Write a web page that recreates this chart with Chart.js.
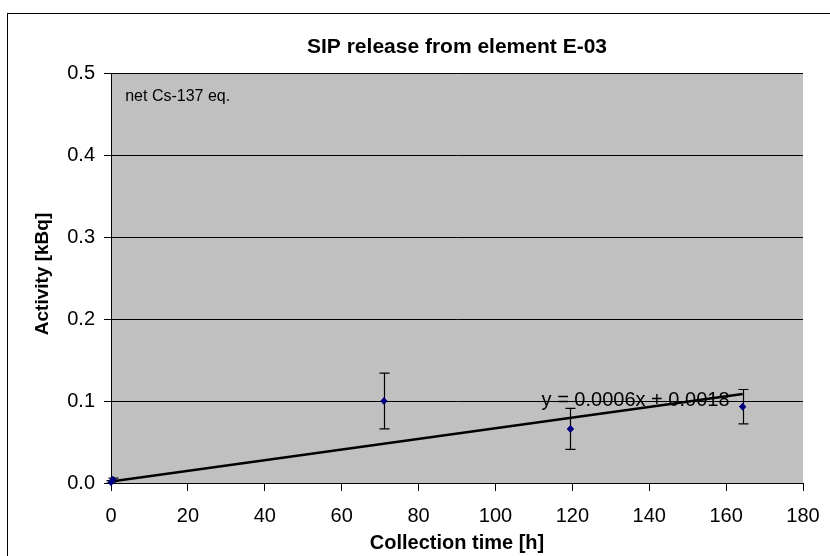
<!DOCTYPE html>
<html><head><meta charset="utf-8">
<script src="https://cdn.jsdelivr.net/npm/chart.js@4/dist/chart.umd.min.js"></script>
<style>html,body{margin:0;padding:0;background:#fff}#wrap{width:830px;height:556px}</style>
</head><body><div id="wrap"><canvas id="c" width="830" height="556"></canvas></div>
<script>
const timeH = [0, 0.5, 71, 119.5, 164.3];
const activity = [0.001, 0.004, 0.100, 0.066, 0.093];
const errPlusMinus = [0.002, 0.002, 0.034, 0.025, 0.021];
const trendX = [0, 164.3];
const trendY = [0.0018, 0.1086];
const trendLabel = 'y = 0.0006x + 0.0018';
const xTicks = [0,20,40,60,80,100,120,140,160,180];
const yTicks = [0,0.1,0.2,0.3,0.4,0.5];

const FONT = '"Liberation Sans", Arial, sans-serif';

const extras = {
  id: 'extras',
  beforeDraw(chart) {
    const ctx = chart.ctx;
    ctx.save();
    ctx.fillStyle = '#fff';
    ctx.fillRect(0,0,chart.width,chart.height);
    ctx.strokeStyle = '#000';
    ctx.lineWidth = 1;
    ctx.strokeRect(7.5, 13.5, 830, 560);
    const a = chart.chartArea;
    ctx.fillStyle = '#C0C0C0';
    ctx.fillRect(a.left, a.top, a.right-a.left, a.bottom-a.top);
    ctx.restore();
  },
  afterDatasetsDraw(chart) {
    const ctx = chart.ctx, xs = chart.scales.x, ys = chart.scales.y;
    ctx.save();
    ctx.strokeStyle = '#000'; ctx.lineWidth = 1.2;
    timeH.forEach((t,i) => {
      const px = Math.round(xs.getPixelForValue(t)) + 0.5;
      const top = ys.getPixelForValue(activity[i] + errPlusMinus[i]);
      const bot = ys.getPixelForValue(Math.max(0, activity[i] - errPlusMinus[i]));
      ctx.beginPath();
      ctx.moveTo(px, top); ctx.lineTo(px, bot);
      ctx.moveTo(px-5, top); ctx.lineTo(px+5, top);
      ctx.moveTo(px-5, bot); ctx.lineTo(px+5, bot);
      ctx.stroke();
    });
    ctx.fillStyle = '#000080';
    timeH.forEach((t,i) => {
      const px = xs.getPixelForValue(t), py = ys.getPixelForValue(activity[i]);
      ctx.beginPath();
      ctx.moveTo(px, py-4); ctx.lineTo(px+3.5, py); ctx.lineTo(px, py+4); ctx.lineTo(px-3.5, py);
      ctx.closePath(); ctx.fill();
    });
    ctx.fillStyle = '#000';
    ctx.font = '20px ' + FONT;
    ctx.textBaseline = 'middle'; ctx.textAlign = 'left';
    ctx.fillText(trendLabel, xs.getPixelForValue(112), ys.getPixelForValue(0.1) - 1);
    ctx.font = '16px ' + FONT;
    ctx.fillText('net Cs-137 eq.', xs.getPixelForValue(3.7), ys.getPixelForValue(0.471));
    ctx.font = 'bold 21px ' + FONT;
    ctx.textAlign = 'center';
    ctx.fillText('SIP release from element E-03', (xs.left + xs.right)/2, 47);
    ctx.font = 'bold 20px ' + FONT;
    ctx.fillText('Collection time [h]', (xs.left + xs.right)/2, 543);
    ctx.font = 'bold 19px ' + FONT;
    ctx.translate(43, 274);
    ctx.rotate(-Math.PI/2);
    ctx.fillText('Activity [kBq]', 0, 0);
    ctx.restore();
  }
};

new Chart(document.getElementById('c'), {
  type: 'scatter',
  data: {
    datasets: [
      { label: 'data', data: timeH.map((t,i)=>({x:t,y:activity[i]})),
        pointStyle: 'rectRot', pointRadius: 3, backgroundColor: '#000080', borderColor: '#000080', showLine: false },
      { label: 'trend', type: 'line', data: trendX.map((t,i)=>({x:t,y:trendY[i]})),
        borderColor: '#000', borderWidth: 2.5, pointRadius: 0, fill: false }
    ]
  },
  options: {
    responsive: false, animation: false, devicePixelRatio: 1,
    layout: { padding: { left: 7, right: 27, top: 73, bottom: 0 } },
    plugins: { legend: { display: false }, tooltip: { enabled: false } },
    scales: {
      x: {
        type: 'linear', min: 0, max: 180,
        afterBuildTicks(s){ s.ticks = xTicks.map(v=>({value:v})); },
        afterFit(s){ s.height = 73; s.paddingLeft = 0; s.paddingRight = 0; },
        grid: { drawOnChartArea: false, drawTicks: true, tickLength: 8, color: '#000' },
        border: { color: '#000', width: 1 },
        ticks: { color: '#000', font: { family: FONT, size: 20 }, padding: 13, maxRotation: 0 }
      },
      y: {
        type: 'linear', min: 0, max: 0.5,
        afterBuildTicks(s){ s.ticks = yTicks.map(v=>({value:v})); },
        afterFit(s){ s.width = 104; s.paddingTop = 0; s.paddingBottom = 0; },
        grid: { color: '#000', drawTicks: true, tickLength: 7 },
        border: { color: '#000', width: 1 },
        ticks: { color: '#000', font: { family: FONT, size: 20 }, padding: 9, callback: v => v.toFixed(1) }
      }
    }
  },
  plugins: [extras]
});
</script></body></html>
